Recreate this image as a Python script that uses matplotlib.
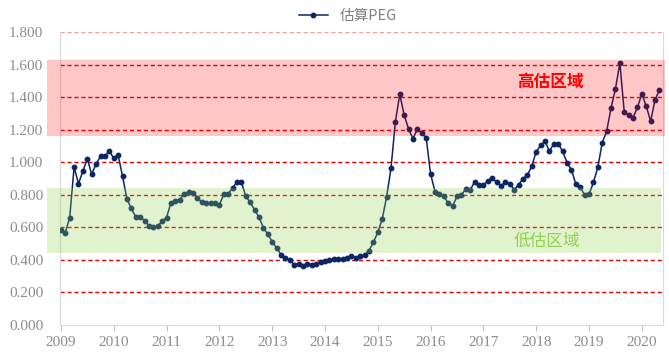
import matplotlib
matplotlib.use('Agg')
import matplotlib.pyplot as plt
from matplotlib.patches import Rectangle
import numpy as np

# monthly estimated PEG, Jan 2009 - May 2020
peg = [0.585, 0.568, 0.66, 0.97, 0.868, 0.946, 1.02, 0.927, 0.99, 1.036,
       1.036, 1.069, 1.024, 1.044, 0.915, 0.774, 0.716, 0.665, 0.666, 0.641,
       0.61, 0.60, 0.607, 0.638, 0.66, 0.751, 0.763, 0.771, 0.804, 0.816,
       0.81, 0.783, 0.755, 0.749, 0.747, 0.749, 0.738, 0.802, 0.807, 0.841,
       0.878, 0.878, 0.792, 0.753, 0.708, 0.663, 0.599, 0.558, 0.513, 0.474,
       0.433, 0.41, 0.402, 0.371, 0.377, 0.365, 0.377, 0.371, 0.377, 0.39,
       0.396, 0.40, 0.404, 0.404, 0.408, 0.412, 0.427, 0.412, 0.422, 0.43,
       0.457, 0.508, 0.569, 0.65, 0.786, 0.962, 1.249, 1.417, 1.29, 1.204,
       1.145, 1.204, 1.18, 1.151, 0.927, 0.82, 0.802, 0.792, 0.749, 0.732,
       0.79, 0.80, 0.835, 0.829, 0.88, 0.862, 0.859, 0.886, 0.905, 0.876,
       0.855, 0.879, 0.867, 0.831, 0.862, 0.90, 0.921, 0.978, 1.065, 1.104,
       1.13, 1.067, 1.114, 1.114, 1.067, 0.997, 0.954, 0.866, 0.847, 0.798,
       0.802, 0.876, 0.97, 1.12, 1.19, 1.333, 1.45, 1.61, 1.309, 1.29,
       1.274, 1.337, 1.42, 1.344, 1.251, 1.385, 1.442]
years = ['2009', '2010', '2011', '2012', '2013', '2014', '2015', '2016',
         '2017', '2018', '2019', '2020']
y_ticks = [0.0, 0.2, 0.4, 0.6, 0.8, 1.0, 1.2, 1.4, 1.6, 1.8]
high_band = [1.163, 1.631]
low_band = [0.441, 0.841]

fig = plt.figure(figsize=(6.69, 3.57), dpi=100)
ax = fig.add_axes([0.0897, 0.0896, 0.9013, 0.8207])

x = np.arange(len(peg))

# red dashed grid
for v in y_ticks[1:]:
    c = '#E9A3A3' if v == 1.8 else '#E00000'
    ax.axhline(v, color=c, lw=1.0, ls=(0, (3, 2)), zorder=1)

ax.plot(x, peg, color='#0B2565', lw=1.1, marker='o', ms=3.2, zorder=3,
        label='估算PEG')

# shaded zones (drawn over the line, semi transparent)
tr = ax.get_yaxis_transform()
ax.add_patch(Rectangle((-0.0216, high_band[0]), 1.0246, high_band[1] - high_band[0],
                       transform=tr, clip_on=False, facecolor='#FF0000',
                       alpha=0.22, edgecolor='none', zorder=4))
ax.add_patch(Rectangle((-0.0216, low_band[0]), 1.019, low_band[1] - low_band[0],
                       transform=tr, clip_on=False, facecolor='#92D050',
                       alpha=0.27, edgecolor='none', zorder=4))

ax.text(111.3, 1.495, '高估区域', color='#FF0000', fontsize=12, fontweight='bold',
        family=['Noto Sans CJK SC', 'DejaVu Sans'], ha='center', va='center', zorder=5)
ax.text(110.5, 0.513, '低估区域', color='#92D050', fontsize=12,
        family=['Noto Sans CJK SC', 'DejaVu Sans'], ha='center', va='center', zorder=5)

ax.set_xlim(-0.2, 136.8)
ax.set_ylim(0, 1.8)
ax.set_xticks(np.arange(len(years)) * 12)
ax.set_xticklabels(years)
ax.set_yticks(y_ticks)
ax.set_yticklabels(['%.3f' % v for v in y_ticks])

for lab in ax.get_xticklabels() + ax.get_yticklabels():
    lab.set_family('Liberation Serif')
    lab.set_fontsize(11)
    lab.set_color('#8C8C8C')
ax.tick_params(axis='y', length=0, pad=12)
ax.tick_params(axis='x', length=4, color='#BFBFBF', pad=4, direction='out')

for s in ['left', 'bottom', 'right']:
    ax.spines[s].set_color('#D9D9D9')
ax.spines['top'].set_visible(False)

leg = fig.legend(loc='center', bbox_to_anchor=(0.52, 0.955), frameon=False,
                 handlelength=2.0,
                 prop={'family': ['Noto Sans CJK SC', 'DejaVu Sans'], 'size': 10.5})
for t in leg.get_texts():
    t.set_color('#7F7F7F')

plt.savefig('out.png', dpi=100)
